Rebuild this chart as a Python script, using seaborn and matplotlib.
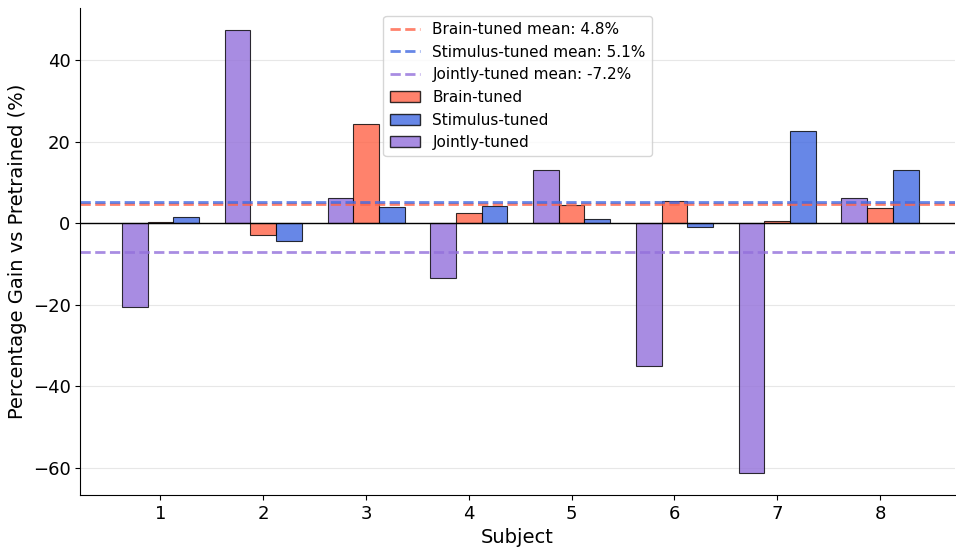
import pandas as pd
import matplotlib.pyplot as plt
import seaborn as sns
from matplotlib.patches import Patch

subjects = ['1', '2', '3', '4', '5', '6', '7', '8']
brain_tuned = [0.3, -3.0, 24.2, 2.5, 4.4, 5.5, 0.4, 3.8]
stimulus_tuned = [1.4, -4.5, 3.9, 4.2, 0.9, -1.0, 22.6, 13.1]
jointly_tuned = [-20.5, 47.3, 6.2, -13.5, 13.0, -35.0, -61.3, 6.1]

models = ['Brain-tuned', 'Stimulus-tuned', 'Jointly-tuned']
colors = {'Brain-tuned': 'tomato', 'Stimulus-tuned': 'royalblue', 'Jointly-tuned': 'mediumpurple'}

df = pd.DataFrame({
    'Subject': subjects * 3,
    'Model': ['Brain-tuned'] * 8 + ['Stimulus-tuned'] * 8 + ['Jointly-tuned'] * 8,
    'Gain': brain_tuned + stimulus_tuned + jointly_tuned,
})

fig, ax = plt.subplots(figsize=(9.56, 5.47), dpi=100)

sns.barplot(data=df, x='Subject', y='Gain', hue='Model',
            hue_order=['Jointly-tuned', 'Brain-tuned', 'Stimulus-tuned'],
            palette=colors, saturation=1, width=0.75, errorbar=None,
            alpha=0.8, edgecolor='black', linewidth=0.8, legend=False, ax=ax)

ax.axhline(0, color='black', linewidth=1)

# mean lines
handles = []
for m, vals in zip(models, [brain_tuned, stimulus_tuned, jointly_tuned]):
    mean = sum(vals) / len(vals)
    h = ax.axhline(mean, color=colors[m], linestyle='--', linewidth=2, alpha=0.8,
                   label=f'{m} mean: {mean:.1f}%')
    handles.append(h)
for m in models:
    handles.append(Patch(facecolor=colors[m], edgecolor='black', alpha=0.8, label=m))

ax.legend(handles=handles, loc='upper center', fontsize=11)
ax.yaxis.grid(True, alpha=0.3)
ax.set_axisbelow(True)
ax.set_xlim(-0.78, 7.73)
ax.set_xlabel('Subject', fontsize=14)
ax.set_ylabel('Percentage Gain vs Pretrained (%)', fontsize=14)
ax.tick_params(labelsize=13)
sns.despine(ax=ax)

fig.subplots_adjust(left=0.084, right=0.999, top=0.985, bottom=0.095)
plt.savefig('out.png')
